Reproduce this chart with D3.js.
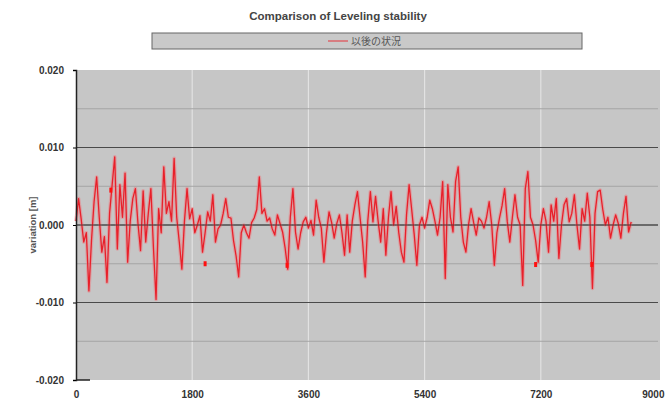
<!DOCTYPE html>
<html>
<head>
<meta charset="utf-8">
<script src="https://cdn.jsdelivr.net/npm/d3@7"></script>
<style>
body { margin: 0; background: #fff; }
text { font-family: "Liberation Sans", Arial, sans-serif; }
</style>
</head>
<body>
<script>
/* Chart data (variation in m, one sample every 40 s) */
var sampleStep = 40;
var variation = [
	0.0005, 0.0034, 0.0008, -0.0022, -0.0010, -0.0085, -0.0020, 0.0030, 0.0062, 0.0010,
	-0.0035, -0.0015, -0.0074, 0.0015, 0.0052, 0.0088, -0.0031, 0.0052, 0.0010, 0.0067,
	-0.0048, 0.0005, 0.0034, 0.0047, 0.0002, -0.0033, 0.0044, -0.0022, 0.0015, 0.0047,
	-0.0030, -0.0096, 0.0021, -0.0010, 0.0075, 0.0015, 0.0030, 0.0005, 0.0086, 0.0010,
	-0.0022, -0.0057, 0.0005, 0.0047, 0.0008, 0.0021, -0.0010, 0.0000, 0.0012, -0.0035,
	-0.0010, 0.0017, 0.0005, 0.0039, -0.0022, -0.0005, 0.0000, 0.0015, 0.0034, 0.0010,
	0.0009, -0.0020, -0.0040, -0.0067, -0.0010, 0.0000, -0.0010, -0.0017, 0.0003, 0.0009,
	0.0020, 0.0062, 0.0015, 0.0021, 0.0005, 0.0009, -0.0005, -0.0013, 0.0013, 0.0002,
	-0.0009, -0.0030, -0.0057, 0.0010, 0.0047, -0.0009, -0.0031, -0.0010, 0.0004, 0.0010,
	-0.0004, 0.0006, -0.0013, 0.0032, 0.0010, -0.0004, -0.0048, -0.0010, 0.0017, 0.0003,
	-0.0017, 0.0002, 0.0013, -0.0010, -0.0039, 0.0013, -0.0035, 0.0005, 0.0026, 0.0043,
	0.0010, -0.0022, -0.0067, 0.0005, 0.0043, 0.0004, 0.0037, 0.0005, -0.0022, 0.0021,
	-0.0039, 0.0010, 0.0043, 0.0000, 0.0024, -0.0010, -0.0035, -0.0048, 0.0013, 0.0052,
	0.0020, -0.0013, -0.0052, 0.0000, 0.0010, -0.0004, 0.0010, 0.0032, 0.0021, 0.0005,
	-0.0013, 0.0010, 0.0056, -0.0069, 0.0052, 0.0010, -0.0009, 0.0056, 0.0075, 0.0010,
	-0.0022, -0.0035, 0.0000, 0.0021, 0.0003, -0.0013, 0.0009, 0.0005, -0.0004, 0.0010,
	0.0030, 0.0000, -0.0052, -0.0010, 0.0009, 0.0025, 0.0047, 0.0005, -0.0022, 0.0010,
	0.0039, 0.0010, 0.0000, -0.0078, 0.0047, 0.0069, 0.0010, 0.0000, -0.0020, -0.0048,
	0.0000, 0.0021, 0.0005, -0.0035, 0.0026, 0.0005, 0.0034, -0.0043, 0.0000, 0.0026,
	0.0034, 0.0004, 0.0015, 0.0039, 0.0000, -0.0031, 0.0021, 0.0005, 0.0041, 0.0010,
	-0.0082, 0.0015, 0.0043, 0.0045, 0.0020, 0.0000, 0.0010, -0.0017, 0.0000, 0.0013,
	0.0002, -0.0017, 0.0015, 0.0037, -0.0009, 0.0004
];
// isolated red marks visible on the plot
var markTimes = [540, 2000, 3270, 7120, 7990];
var markValues = [0.0045, -0.0050, -0.0052, -0.0051, -0.0051];

var xTicks = [0, 1800, 3600, 5400, 7200, 9000];
var yTicks = [-0.020, -0.010, 0.000, 0.010, 0.020];
var yMinorTicks = [-0.015, -0.005, 0.005, 0.015];
var seriesName = "以後の状況";

/* Display setup */
var width = 665, height = 403,
	margin = {top: 70, right: 7, bottom: 24, left: 76},
	plot = {width: width - margin.left - margin.right, height: height - margin.top - margin.bottom};

var svg = d3.select("body").append("svg")
	.attr("width", width)
	.attr("height", height);

var x = d3.scaleLinear().domain([0, 9000]).range([0, 581]),
	y = d3.scaleLinear().domain([-0.02, 0.02]).range([310, 0]);

var g = svg.append("g").attr("transform", "translate(" + margin.left + "," + margin.top + ")");

// plot background
g.append("rect")
	.attr("x", 0).attr("y", 0)
	.attr("width", plot.width + 2)
	.attr("height", y(-0.02))
	.style("fill", "#c6c6c6");

// vertical grid
g.selectAll(".vgrid")
	.data(xTicks.slice(1, -1))
	.enter().append("line")
		.attr("class", "vgrid")
		.attr("x1", x).attr("x2", x)
		.attr("y1", 0).attr("y2", y(-0.02))
		.style("stroke", "#e2e2e2")
		.style("stroke-width", 1.2);

// horizontal grid (minor then major)
g.selectAll(".hminor")
	.data(yMinorTicks)
	.enter().append("line")
		.attr("class", "hminor")
		.attr("x1", 0).attr("x2", plot.width)
		.attr("y1", y).attr("y2", y)
		.style("stroke", "#a4a4a4");

g.selectAll(".hmajor")
	.data(yTicks.slice(1, -1))
	.enter().append("line")
		.attr("class", "hmajor")
		.attr("x1", 0).attr("x2", plot.width)
		.attr("y1", y).attr("y2", y)
		.style("stroke", "#4a4a4a")
		.style("stroke-width", 1.2);

// series
var line = d3.line()
	.x(function(d, i) { return x(i * sampleStep); })
	.y(function(d) { return y(d); });

g.append("path")
	.datum(variation)
	.attr("d", line)
	.style("fill", "none")
	.style("stroke", "#ee7c82")
	.style("stroke-width", 3.6)
	.style("stroke-opacity", 0.5)
	.style("stroke-linejoin", "round");

g.append("path")
	.datum(variation)
	.attr("d", line)
	.style("fill", "none")
	.style("stroke", "#e8202a")
	.style("stroke-width", 1.3)
	.style("stroke-linejoin", "round");

g.selectAll(".mark")
	.data(markTimes)
	.enter().append("rect")
		.attr("class", "mark")
		.attr("x", function(d) { return x(d) - 1.5; })
		.attr("y", function(d, i) { return y(markValues[i]) - 2.5; })
		.attr("width", 3).attr("height", 5)
		.style("fill", "#ff1010");

// zero line drawn over the series
g.append("line")
	.attr("x1", 0).attr("x2", plot.width)
	.attr("y1", y(0)).attr("y2", y(0))
	.style("stroke", "#333")
	.style("stroke-opacity", 0.7);

// axes
var yAxis = d3.axisLeft(y).tickValues(yTicks).tickSize(3).tickFormat(d3.format(".3f"));
var xAxis = d3.axisBottom(x).tickValues(xTicks).tickSize(0).tickFormat(d3.format("d"));

var gy = g.append("g").call(yAxis);
gy.select(".domain").style("stroke", "#222").style("stroke-width", 1.5);
gy.selectAll("text")
	.attr("x", -12)
	.style("font-size", "10px")
	.style("font-weight", "bold")
	.style("fill", "#333")
	.text(function(d) { return d3.format(".3f")(d).replace("−", "-"); });

var gx = g.append("g").attr("transform", "translate(0," + y(-0.02) + ")").call(xAxis);
gx.select(".domain").remove();
gx.selectAll("text")
	.attr("y", 11)
	.style("font-size", "10px")
	.style("font-weight", "bold")
	.style("fill", "#333")
	.filter(function(d) { return d === 9000; })
		.attr("text-anchor", "end")
		.attr("dx", 7);
g.append("line")
	.attr("x1", 0).attr("x2", 14)
	.attr("y1", y(-0.02)).attr("y2", y(-0.02))
	.style("stroke", "#222").style("stroke-width", 1.5);

// y label
svg.append("text")
	.attr("transform", "translate(36," + (margin.top + y(0)) + ") rotate(-90)")
	.attr("text-anchor", "middle")
	.style("font-size", "9.5px")
	.style("font-weight", "bold")
	.style("fill", "#555")
	.text("variation [m]");

// title
svg.append("text")
	.attr("x", 338).attr("y", 20)
	.attr("text-anchor", "middle")
	.style("font-size", "11.5px")
	.style("font-weight", "bold")
	.style("fill", "#444")
	.text("Comparison of Leveling stability");

// legend
var legend = svg.append("g").attr("transform", "translate(152,33)");
legend.append("rect")
	.attr("width", 430).attr("height", 16)
	.style("fill", "#c9c9c9")
	.style("stroke", "#666");
legend.append("line")
	.attr("x1", 176).attr("x2", 196)
	.attr("y1", 8).attr("y2", 8)
	.style("stroke", "#e8202a")
	.style("stroke-opacity", 0.6)
	.style("stroke-width", 1.5);
legend.append("text")
	.attr("x", 199).attr("y", 12)
	.style("font-family", "'Noto Sans CJK JP', sans-serif")
	.style("font-size", "10px")
	.style("fill", "#555")
	.text(seriesName);
</script>
</body>
</html>
